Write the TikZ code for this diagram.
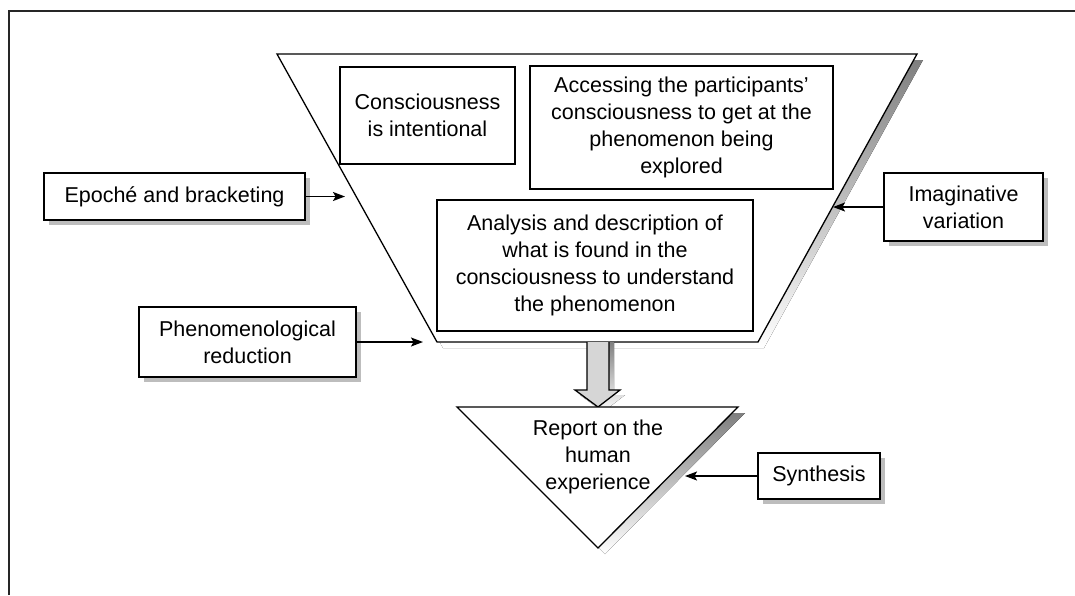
\documentclass[tikz,border=0pt]{standalone}
\usepackage{fontspec}
\setmainfont{Liberation Sans}
\usetikzlibrary{arrows.meta,shadows}
\definecolor{shade}{gray}{0.74}
\definecolor{pale}{gray}{0.84}
\begin{document}
\begin{tikzpicture}[x=1pt,y=-1pt,
  outline/.style={draw=black, line width=1.3pt, line join=miter},
  txt/.style={align=center, inner sep=0pt, font=\fontsize{21.5}{27}\selectfont},
  box/.style={txt, outline, fill=white, rectangle},
  sbox/.style={box, drop shadow={shadow xshift=5pt, shadow yshift=-5pt, fill=shade, opacity=1}},
  arr/.style={line width=1.3pt, -{Stealth[length=12pt,width=9pt,inset=2.5pt]}}]
\useasboundingbox (0,0) rectangle (1075,595);

% page frame (top and left rules)
\draw[line width=1.2pt, black!85] (9,595) -- (9,11) -- (1075,11);

% funnel (trapezoid)
\coordinate (tl) at (277,54);
\coordinate (tr) at (917,54);
\coordinate (br) at (758,342);
\coordinate (bl) at (437,342);
\fill[shade] ([shift={(6,6)}]tl) -- ([shift={(6,6)}]tr) -- ([shift={(6,6)}]br) -- ([shift={(6,6)}]bl) -- cycle;
\draw[outline, fill=white] (tl) -- (tr) -- (br) -- (bl) -- cycle;

% boxes inside the funnel
\node[box, minimum width=175pt, minimum height=97pt] (conc) at (427.5,115.5)
  {Consciousness\\is intentional};
\node[box, minimum width=303pt, minimum height=123pt] (acc) at (681.5,127.5)
  {Accessing the participants’\\consciousness to get at the\\phenomenon being\\explored};
\node[box, minimum width=316pt, minimum height=131pt] (ana) at (595,265.5)
  {Analysis and description of\\what is found in the\\consciousness to understand\\the phenomenon};

% block arrow from funnel to report
\fill[shade] (592,342) -- (592,395) -- (580,395) -- (603,412) -- (625,395) -- (614,395) -- (614,342) -- cycle;
\draw[outline, fill=pale] (587,342) -- (587,390) -- (575,390) -- (598,407) -- (620,390) -- (609,390) -- (609,342);

% report triangle
\coordinate (ta) at (457,407);
\coordinate (tb) at (738,407);
\coordinate (tc) at (598,548);
\fill[shade] ([shift={(7,6)}]ta) -- ([shift={(7,6)}]tb) -- ([shift={(7,6)}]tc) -- cycle;
\draw[outline, fill=white] (ta) -- (tb) -- (tc) -- cycle;
\node[txt] (rep) at (598,457) {Report on the\\human\\experience};

% side boxes
\node[sbox, minimum width=261pt, minimum height=47pt] (epo) at (174.5,196.5) {Epoché and bracketing};
\node[sbox, minimum width=217pt, minimum height=70pt] (phe) at (247.5,342) {Phenomenological\\reduction};
\node[sbox, minimum width=159pt, minimum height=68pt] (ima) at (963.5,207) {Imaginative\\variation};
\node[sbox, minimum width=122pt, minimum height=46pt] (syn) at (819,476) {Synthesis};

% connectors
\coordinate (epoT) at (345,196.5);
\coordinate (pheT) at (423,342);
\coordinate (imaT) at (833,207);
\coordinate (synT) at (685,476);
\draw[arr] (epo.east) -- (epoT);
\draw[arr] (phe.east) -- (pheT);
\draw[arr] (ima.west) -- (imaT);
\draw[arr] (syn.west) -- (synT);
\end{tikzpicture}
\end{document}
